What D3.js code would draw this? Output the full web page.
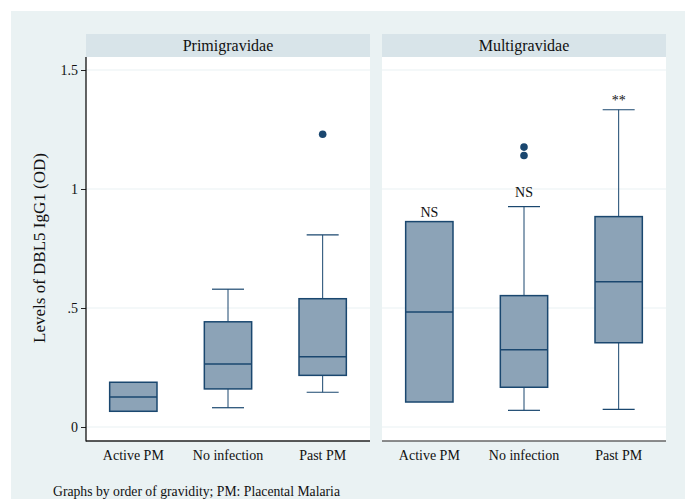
<!DOCTYPE html>
<html><head><meta charset="utf-8">
<script src="https://cdn.jsdelivr.net/npm/d3@7"></script>
<style>html,body{margin:0;padding:0;background:#fff;}svg{display:block;}</style>
</head><body>
<svg id="c" width="685" height="499"></svg>
<script>
const panels = ["Primigravidae", "Multigravidae"];
const categories = ["Active PM", "No infection", "Past PM"];
const yTicks = [0, 0.5, 1, 1.5];
const yTickLabels = ["0", ".5", "1", "1.5"];
// per panel, per category
const lowerWhisker = [[0.066, 0.081, 0.146], [0.105, 0.070, 0.074]];
const q1Values     = [[0.066, 0.160, 0.217], [0.105, 0.167, 0.354]];
const medianValues = [[0.126, 0.265, 0.295], [0.483, 0.325, 0.610]];
const q3Values     = [[0.188, 0.442, 0.539], [0.863, 0.552, 0.884]];
const upperWhisker = [[0.188, 0.579, 0.807], [0.863, 0.926, 1.333]];
const outliers     = [[[], [], [1.230]], [[], [1.176, 1.141], []]];
const annotations  = [[null, null, null], ["NS", "NS", "**"]];
const annotationY  = [[null, null, null], [0.882, 0.966, 1.355]];
const yTitle = "Levels of DBL5 IgG1 (OD)";
const caption = "Graphs by order of gravidity; PM: Placental Malaria";

const svg = d3.select("#c");
const FONT = "'Liberation Serif','Times New Roman',serif";
const navy = "#1a476f", fill = "#8ca3b7";

svg.append("rect").attr("x", 11).attr("y", 11).attr("width", 674).attr("height", 488).attr("fill", "#eaf2f3");

const y = d3.scaleLinear().domain([0, 1.5]).range([427, 70]);
const plotTop = 57, plotBottom = 441, headerTop = 34;
const panelX = [86, 382], panelW = 284;

panels.forEach((p, pi) => {
  const x0 = panelX[pi];
  const x = d3.scaleBand().domain(categories).range([x0, x0 + panelW]).padding(0);
  const bw = x.bandwidth() * 0.5;
  const g = svg.append("g");
  // header
  g.append("rect").attr("x", x0).attr("y", headerTop).attr("width", panelW).attr("height", plotTop - headerTop).attr("fill", "#d8e4e9");
  g.append("text").attr("x", x0 + panelW / 2).attr("y", 51).attr("text-anchor", "middle")
    .attr("font-family", FONT).attr("font-size", 16).attr("fill", "#111").text(p);
  // plot region
  g.append("rect").attr("x", x0).attr("y", plotTop).attr("width", panelW).attr("height", plotBottom - plotTop).attr("fill", "#fff");
  // grid
  g.selectAll("line.grid").data(yTicks).join("line")
    .attr("x1", x0).attr("x2", x0 + panelW).attr("y1", d => y(d)).attr("y2", d => y(d))
    .attr("stroke", "#eaf2f3").attr("stroke-width", 1.2);
  // x axis line
  g.append("line").attr("x1", x0).attr("x2", x0 + panelW).attr("y1", plotBottom).attr("y2", plotBottom)
    .attr("stroke", pi === 0 ? "#222" : "#666").attr("stroke-width", 1.3);
  // category labels
  const xa = g.append("g").attr("transform", `translate(0,${plotBottom})`)
    .call(d3.axisBottom(x).tickSize(0).tickPadding(0));
  xa.select(".domain").remove();
  xa.selectAll("text").attr("y", 19).attr("dy", 0).attr("font-family", FONT).attr("font-size", 14).attr("fill", "#111");

  categories.forEach((c, ci) => {
    const cx = x(c) + x.bandwidth() / 2;
    const lw = lowerWhisker[pi][ci], q1 = q1Values[pi][ci], md = medianValues[pi][ci], q3 = q3Values[pi][ci], uw = upperWhisker[pi][ci];
    if (uw > q3) {
      g.append("line").attr("x1", cx).attr("x2", cx).attr("y1", y(q3)).attr("y2", y(uw)).attr("stroke", navy).attr("stroke-width", 1);
      g.append("line").attr("x1", cx - 16).attr("x2", cx + 16).attr("y1", y(uw)).attr("y2", y(uw)).attr("stroke", navy).attr("stroke-width", 1.2);
    }
    if (lw < q1) {
      g.append("line").attr("x1", cx).attr("x2", cx).attr("y1", y(q1)).attr("y2", y(lw)).attr("stroke", navy).attr("stroke-width", 1);
      g.append("line").attr("x1", cx - 16).attr("x2", cx + 16).attr("y1", y(lw)).attr("y2", y(lw)).attr("stroke", navy).attr("stroke-width", 1.2);
    }
    g.append("rect").attr("x", cx - bw / 2).attr("y", y(q3)).attr("width", bw).attr("height", y(q1) - y(q3))
      .attr("fill", fill).attr("stroke", navy).attr("stroke-width", 1.5);
    g.append("line").attr("x1", cx - bw / 2).attr("x2", cx + bw / 2).attr("y1", y(md)).attr("y2", y(md)).attr("stroke", navy).attr("stroke-width", 1.5);
    g.selectAll(null).data(outliers[pi][ci]).join("circle")
      .attr("cx", cx).attr("cy", d => y(d)).attr("r", 3.8).attr("fill", navy);
    if (annotations[pi][ci]) {
      g.append("text").attr("x", cx).attr("y", y(annotationY[pi][ci])).attr("text-anchor", "middle")
        .attr("font-family", FONT).attr("font-size", 14).attr("fill", "#111").text(annotations[pi][ci]);
    }
  });
});

// y axis
const ya = svg.append("g").attr("transform", "translate(86,0)")
  .call(d3.axisLeft(y).tickValues(yTicks).tickFormat((d, i) => yTickLabels[i]).tickSize(5).tickPadding(3));
ya.select(".domain").remove();
ya.selectAll("line").attr("stroke", "#222");
ya.selectAll("text").attr("font-family", FONT).attr("font-size", 14).attr("fill", "#111");
svg.append("line").attr("x1", 86).attr("x2", 86).attr("y1", plotTop).attr("y2", plotBottom + 0.6).attr("stroke", "#111").attr("stroke-width", 1.3);

svg.append("text").attr("transform", "translate(45,248) rotate(-90)").attr("text-anchor", "middle")
  .attr("font-family", FONT).attr("font-size", 17).attr("fill", "#111").text(yTitle);

svg.append("text").attr("x", 53).attr("y", 496).attr("font-family", FONT).attr("font-size", 13.7).attr("fill", "#111").text(caption);
</script>
</body></html>
